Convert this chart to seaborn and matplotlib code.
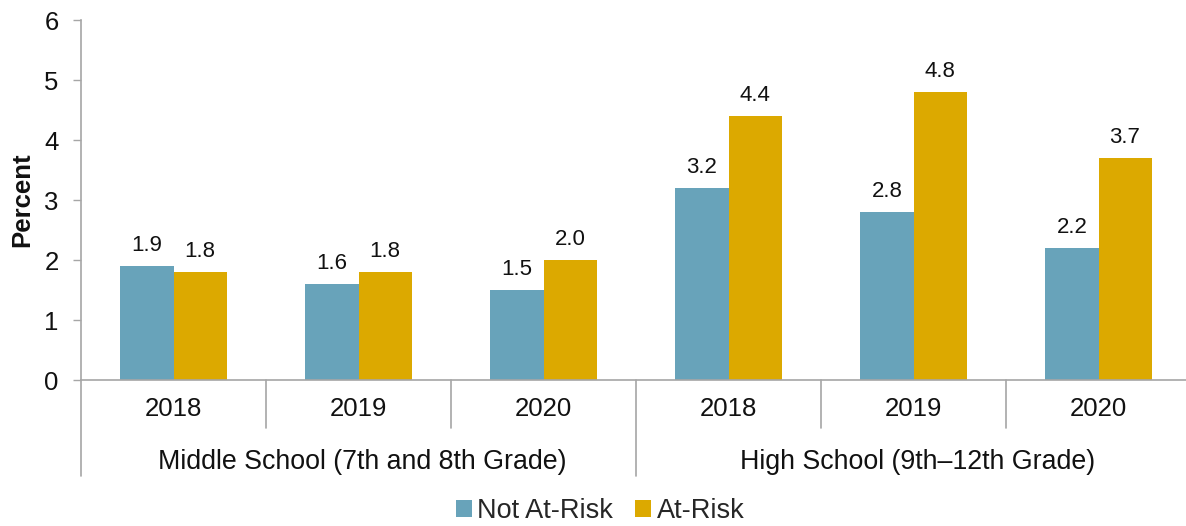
import matplotlib
matplotlib.use("Agg")
import matplotlib.pyplot as plt
import matplotlib.transforms as mtransforms
import seaborn as sns
import pandas as pd

# Data
levels = ["Middle School (7th and 8th Grade)", "High School (9th\u201312th Grade)"]
years = ["2018", "2019", "2020"]
statuses = ["Not At-Risk", "At-Risk"]
not_at_risk = [1.9, 1.6, 1.5, 3.2, 2.8, 2.2]
at_risk = [1.8, 1.8, 2.0, 4.4, 4.8, 3.7]
colors = ["#68A3BA", "#DCA900"]

slots = [f"{lvl} {yr}" for lvl in levels for yr in years]
df = pd.DataFrame({
    "slot": slots * 2,
    "status": [statuses[0]] * len(slots) + [statuses[1]] * len(slots),
    "pct": not_at_risk + at_risk,
})

sns.set_theme(style="white")
plt.rcParams["font.family"] = ["Liberation Sans", "DejaVu Sans"]

W, H = 1186, 526
fig = plt.figure(figsize=(W / 100, H / 100), dpi=100)
ax = fig.add_axes([81 / W, 146 / H, 1110 / W, 360 / H])

sns.barplot(data=df, x="slot", y="pct", hue="status", order=slots,
            hue_order=statuses, palette=colors, width=0.573,
            saturation=1, ax=ax, errorbar=None, linewidth=0)

handles, labels = ax.get_legend_handles_labels()
ax.get_legend().remove()

for cont in ax.containers:
    ax.bar_label(cont, fmt="%.1f", padding=7.5, fontsize=16, color="#111111")

grey = "#A6A6A6"
ax.set_ylim(0, 6)
ax.set_yticks(range(0, 7))
ax.set_xlim(-0.5, len(slots) - 0.5)
ax.set_xticks(range(len(slots)))
ax.set_xticklabels(years * len(levels))
ax.tick_params(axis="y", length=5.5, width=1, color=grey, labelsize=18.5,
               pad=10.5, labelcolor="#111111", left=True)
ax.tick_params(axis="x", length=0, labelsize=18.5, pad=12, labelcolor="#111111")
for side in ["top", "right"]:
    ax.spines[side].set_visible(False)
for side in ["left", "bottom"]:
    ax.spines[side].set_color(grey)
    ax.spines[side].set_linewidth(1.2)

ax.set_xlabel("")
ax.set_ylabel("Percent", fontsize=18.5, fontweight="bold", color="#111111")
ax.yaxis.set_label_coords(-47 / 1110, 0.5)

# Two-level category axis: separators and group labels
trans = mtransforms.blended_transform_factory(ax.transData, ax.transAxes)
short_len = -48 / 360
long_len = -96 / 360
n = len(years)
for i in range(len(slots) + 1):
    xpos = i - 0.5
    ybot = long_len if i % n == 0 else short_len
    ax.plot([xpos, xpos], [0, ybot], transform=trans, color=grey,
            lw=1.2, clip_on=False)
for g, lvl in enumerate(levels):
    ax.text(g * n + (n - 1) / 2 + 0.02, -82 / 360, lvl, transform=trans,
            ha="center", va="center", fontsize=19.3, color="#111111")

fig.legend(handles, labels, loc="center", bbox_to_anchor=(600 / W, 1 - 511 / H),
           ncol=2, frameon=False, fontsize=19.5, handlelength=0.6,
           handleheight=0.6, handletextpad=0.2, columnspacing=0.8)

fig.savefig("out.png", dpi=100)
